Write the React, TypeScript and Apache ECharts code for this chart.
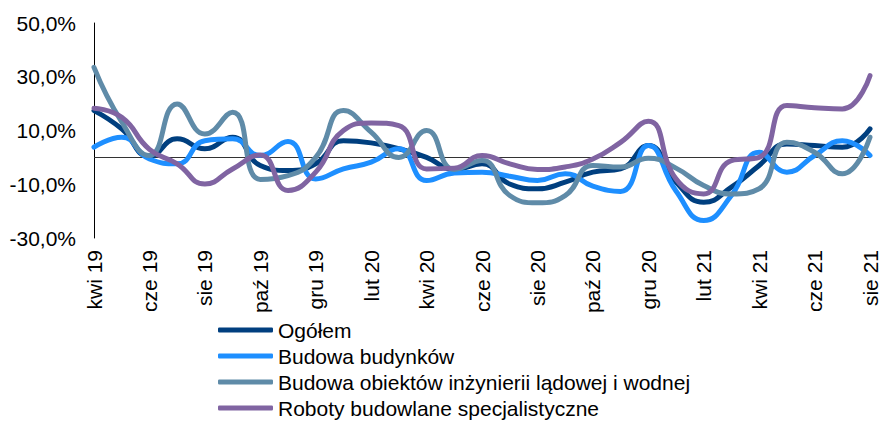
import React, { useEffect, useRef } from "react";
import * as echarts from "echarts";

const months = [
  "kwi 19", "maj 19", "cze 19", "lip 19", "sie 19", "wrz 19", "paź 19", "lis 19", "gru 19",
  "sty 20", "lut 20", "mar 20", "kwi 20", "maj 20", "cze 20", "lip 20", "sie 20", "wrz 20",
  "paź 20", "lis 20", "gru 20", "sty 21", "lut 21", "mar 21", "kwi 21", "maj 21", "cze 21",
  "lip 21", "sie 21",
];

const ogolem = [17.4, 10.6, 0.4, 6.9, 3.2, 7.5, -3, -4.9, -2.4, 6.2, 5.4, 3.2, 0, -4.5, -2.4, -9.9, -11.7, -9.2, -5.5, -4.3, 4.4, -9.2, -16.7, -11.1, -3, 5, 4.4, 3.8, 10.6];
const budynki = [3.8, 7.5, -0.6, -2.4, 6.2, 6.9, 0.7, 5.9, -8, -4.3, -1.8, 3.2, -8.6, -5.8, -5.5, -7, -8.6, -6.1, -10.7, -12.7, 4.4, -12.5, -23.5, -14.2, 1.9, -5.5, 0.7, 6.2, 0.7];
const inzynieria = [33.5, 13.2, 0.7, 19.9, 8.7, 16.8, -8.2, -6.8, 0, 17.4, 9.4, 0, 10, -4.5, -1.2, -14.2, -16.9, -14.2, -3, -3.6, -0.3, -4, -10.5, -13.6, -11.7, 5.6, 1.9, -6.1, 7.5];
const specjalistyczne = [18.3, 14.9, 3, -2.4, -9.9, -4.3, 0.9, -12.3, -5.5, 10, 12.8, 11.8, -4.3, -4, 0.7, -2.4, -4.5, -3.6, -0.6, 5.6, 13.4, -8, -13.6, -1.2, 0, 19.3, 18.5, 18, 30.4];

const seriesNames = [
  "Ogółem",
  "Budowa budynków",
  "Budowa obiektów inżynierii lądowej i wodnej",
  "Roboty budowlane specjalistyczne",
];
const seriesData = [ogolem, budynki, inzynieria, specjalistyczne];
const colors = ["#003F7F", "#1E8FFF", "#5F8BA8", "#8064A2"];
const yLabels = [-30, -10, 10, 30, 50];

const FONT = "'Liberation Sans', Arial, sans-serif";

export default function App() {
  const ref = useRef<HTMLDivElement>(null);

  useEffect(() => {
    if (!ref.current) return;
    const chart = echarts.init(ref.current, undefined, { renderer: "svg" });
    chart.setOption({
      animation: false,
      color: colors,
      textStyle: { fontFamily: FONT },
      grid: { left: 94, right: 11, top: 23, bottom: 184, containLabel: false },
      legend: {
        orient: "vertical",
        left: 218,
        top: 317,
        height: 105,
        icon: "roundRect",
        itemWidth: 55,
        itemHeight: 5,
        itemGap: 0,
        padding: 0,
        textStyle: { fontSize: 21, color: "#000", fontFamily: FONT, lineHeight: 26 },
        data: seriesNames,
      },
      xAxis: {
        type: "category",
        data: months,
        boundaryGap: false,
        axisLine: { show: false },
        axisTick: { show: false },
        axisLabel: {
          interval: 1,
          rotate: 90,
          fontSize: 21,
          color: "#000",
          fontFamily: FONT,
          margin: 12,
        },
        splitLine: { show: false },
      },
      yAxis: {
        type: "value",
        min: -30,
        max: 50,
        interval: 10,
        axisLine: { show: true, lineStyle: { color: "#000", width: 1 } },
        axisTick: { show: false },
        splitLine: { show: false },
        axisLabel: {
          fontSize: 21,
          color: "#000",
          fontFamily: FONT,
          margin: 18,
          formatter: (v: number) =>
            yLabels.includes(Math.round(v)) ? v.toFixed(1).replace(".", ",") + "%" : "",
        },
      },
      series: seriesData.map((d, i) => ({
        name: seriesNames[i],
        type: "line",
        data: d,
        smooth: 0.5,
        symbol: "none",
        lineStyle: { width: 5, color: colors[i], cap: "round" },
        itemStyle: { color: colors[i] },
        z: 2 + i,
        markLine:
          i === 0
            ? {
                silent: true,
                symbol: "none",
                label: { show: false },
                lineStyle: { color: "#333", width: 1, type: "solid" },
                data: [{ yAxis: 0 }],
                z: 1,
              }
            : undefined,
      })),
    });
    return () => chart.dispose();
  }, []);

  return (
    <div
      ref={ref}
      style={{ position: "fixed", left: 0, top: 0, width: 881, height: 422, background: "#fff" }}
    />
  );
}
